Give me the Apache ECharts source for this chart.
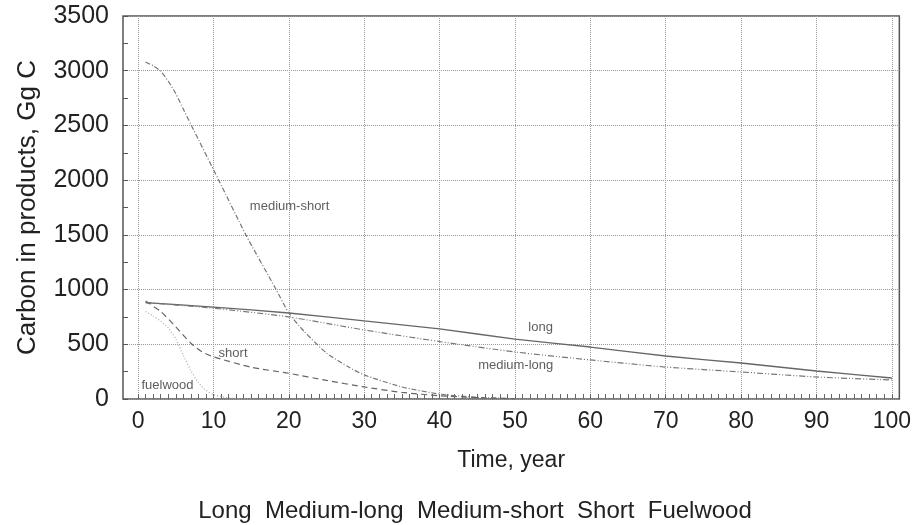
<!DOCTYPE html>
<html>
<head>
<meta charset="utf-8">
<script src="https://cdn.jsdelivr.net/npm/echarts@6/dist/echarts.min.js"></script>
<style>
  html, body { margin: 0; padding: 0; background: #fff; }
  #chart { width: 914px; height: 525px; }
</style>
</head>
<body>
<div id="chart"></div>
<script>
// data: [year, Gg C]
const longData = [[1, 880], [10, 840], [20, 786], [30, 713], [40, 640], [50, 548], [60, 475], [70, 393], [80, 329], [90, 256], [100, 192]];
const mediumLongData = [[1, 880], [10, 830], [20, 750], [30, 631], [40, 525], [50, 430], [60, 357], [70, 292], [80, 247], [90, 201], [100, 174]];
const mediumShortData = [[1, 3080], [2, 3045], [3, 2995], [4, 2905], [5, 2790], [6, 2650], [7, 2510], [10.7, 2000], [14.3, 1500], [18.2, 1015], [20, 786], [22, 620], [25, 420], [28, 290], [30, 220], [35, 110], [40, 45], [45, 15], [50, 3]];
const shortData = [[1, 895], [3, 800], [5, 660], [7, 510], [8.5, 430], [10, 385], [15, 290], [20, 235], [25, 170], [30, 110], [35, 60], [40, 30], [45, 12], [50, 3]];
const fuelwoodData = [[1, 800], [2, 760], [3, 710], [4, 650], [5, 550], [6, 400], [7, 260], [8, 150], [9, 80], [10, 40], [12, 10], [15, 0]];

// curve labels placed in data units
const curveLabels = [[53.4, 658, 'long'], [50.1, 311, 'medium-long'], [20.1, 1764, 'medium-short'], [12.6, 420, 'short'], [3.9, 128, 'fuelwood']];

const xLabelValues = [0, 10, 20, 30, 40, 50, 60, 70, 80, 90, 100];
const xMinorValues = [];
for (let i = 0; i <= 100; i++) xMinorValues.push(i);

const legendText = 'Long  Medium-long  Medium-short  Short  Fuelwood';

const sans = '"Liberation Sans", Arial, sans-serif';
const gridLine = { show: true, lineStyle: { color: '#999', type: [1, 1], width: 1 } };

const chart = echarts.init(document.getElementById('chart'));

const lineSeries = (name, data, color, type, width) => ({
  name,
  type: 'line',
  data,
  smooth: 0.2,
  showSymbol: false,
  symbol: 'none',
  lineStyle: { color, type, width },
  z: 3,
});

chart.setOption({
  backgroundColor: '#fff',
  animation: false,
  grid: { left: 123, right: 6, top: 16, bottom: 126, show: true, borderColor: '#555', borderWidth: 1.5 },
  xAxis: [
    {
      type: 'value',
      min: -2,
      max: 101,
      name: 'Time, year',
      nameLocation: 'middle',
      nameGap: 50,
      nameTextStyle: { fontFamily: sans, fontSize: 23, color: '#222' },
      axisLine: { show: false, onZero: false },
      axisTick: { show: false, customValues: xLabelValues },
      axisLabel: { customValues: xLabelValues, fontFamily: sans, fontSize: 23, color: '#222', margin: 11 },
      splitLine: gridLine,
    },
    {
      type: 'value',
      position: 'bottom',
      min: -2,
      max: 101,
      axisLine: { show: false, onZero: false },
      axisTick: { show: true, inside: true, length: 5, customValues: xMinorValues, lineStyle: { color: '#666' } },
      axisLabel: { show: false },
      splitLine: { show: false },
    },
  ],
  yAxis: {
    type: 'value',
    min: 0,
    max: 3500,
    interval: 500,
    name: 'Carbon in products, Gg C',
    nameLocation: 'middle',
    nameGap: 82,
    nameTextStyle: { fontFamily: sans, fontSize: 26, color: '#222' },
    axisLine: { show: false, onZero: false },
    axisTick: { show: true, inside: true, length: 5, lineStyle: { color: '#555' } },
    minorTick: { show: true, splitNumber: 2, length: 5, lineStyle: { color: '#555' } },
    axisLabel: { fontFamily: sans, fontSize: 25, color: '#222', margin: 14, formatter: (v) => String(v) },
    splitLine: gridLine,
  },
  series: [
    lineSeries('long', longData, '#666', 'solid', 1.3),
    lineSeries('medium-long', mediumLongData, '#777', [6, 2, 1, 2, 1, 2], 1.2),
    lineSeries('medium-short', mediumShortData, '#777', [5, 2, 1, 2], 1.2),
    lineSeries('short', shortData, '#666', [6, 4], 1.2),
    lineSeries('fuelwood', fuelwoodData, '#aaa', [1, 2], 1.2),
    {
      type: 'scatter',
      xAxisIndex: 0,
      symbolSize: 0,
      data: curveLabels,
      label: {
        show: true,
        position: 'inside',
        formatter: (p) => p.data[2],
        fontFamily: sans,
        fontSize: 13,
        color: '#333',
      },
      z: 4,
    },
  ],
  graphic: [
    {
      type: 'text',
      x: 475,
      y: 511,
      style: { text: legendText, fontFamily: sans, fontSize: 24, fill: '#222', align: 'center', verticalAlign: 'middle' },
    },
  ],
});
</script>
</body>
</html>
